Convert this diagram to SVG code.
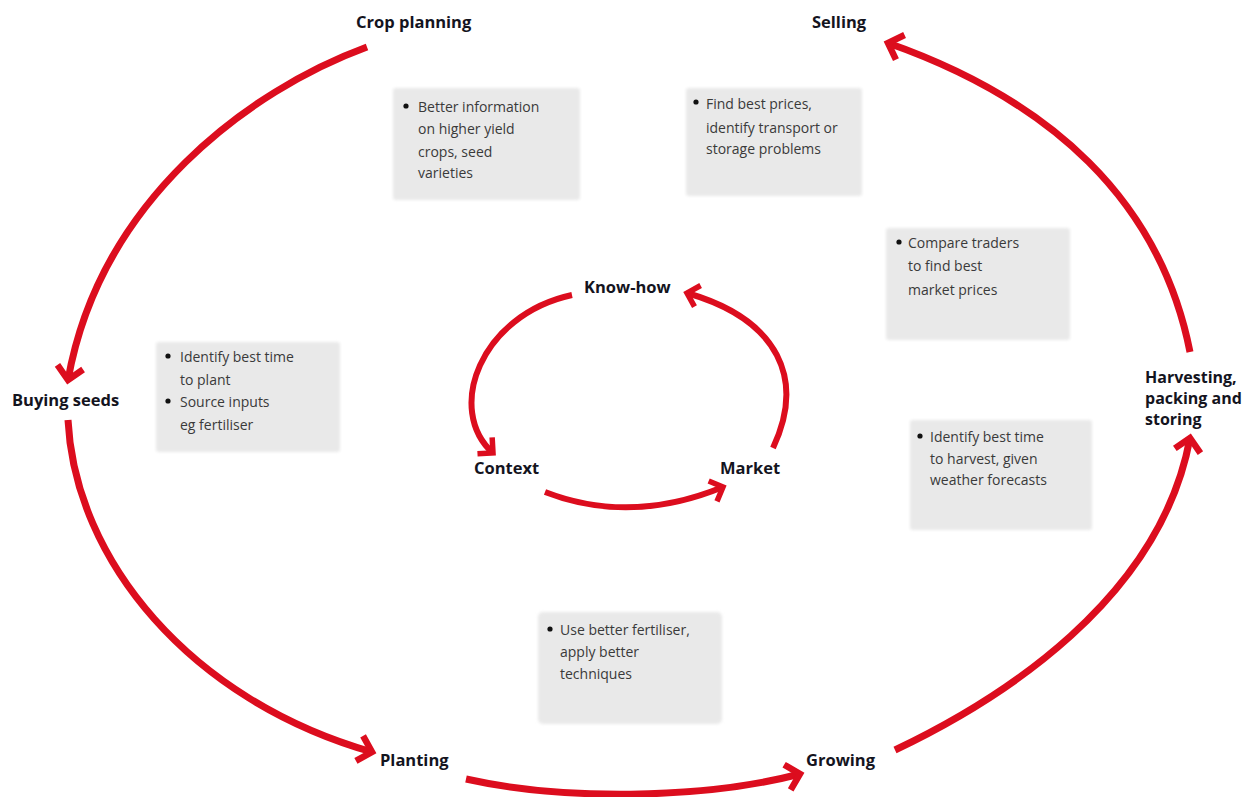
<svg xmlns="http://www.w3.org/2000/svg" width="1255" height="797" viewBox="0 0 1255 797">
<style>
.lbl{font-family:"Open Sans","Noto Sans",sans-serif;font-weight:700;font-size:16.5px;fill:#14141e}
.lbl2{font-family:"Open Sans","Noto Sans",sans-serif;font-weight:700;font-size:16px;fill:#14141e}
.tip{font-family:"Open Sans","Noto Sans",sans-serif;font-size:14px;fill:#3a3a3a}
.dot{fill:#111111}
.box{fill:#e9e9e9}
.arc{fill:none;stroke:#dc0d1e;stroke-width:7;stroke-linecap:butt}
.arc.in{stroke-width:6}
</style>
<defs>
<filter id="soft" x="-5%" y="-5%" width="110%" height="110%"><feGaussianBlur stdDeviation="1.5"/></filter>
<marker id="ah" markerUnits="userSpaceOnUse" markerWidth="40" markerHeight="40" viewBox="-20 -20 40 40" refX="0" refY="0" orient="auto">
<path d="M-13,-13 L0,0 L-13,13" fill="none" stroke="#dc0d1e" stroke-width="6.5" stroke-linejoin="miter"/>
</marker>
<marker id="ahs" markerUnits="userSpaceOnUse" markerWidth="40" markerHeight="40" viewBox="-20 -20 40 40" refX="0" refY="0" orient="auto">
<path d="M-11,-11 L0,0 L-11,11" fill="none" stroke="#dc0d1e" stroke-width="5.5" stroke-linejoin="miter"/>
</marker>
</defs>
<rect width="1255" height="797" fill="#ffffff"/>

<g id="tips">
<g id="tip-crop">
<rect class="box" x="393" y="88" width="187" height="112" rx="3" filter="url(#soft)"/>
<circle class="dot" cx="406" cy="106" r="2.6"/>
<text class="tip" x="418" y="112">Better information</text>
<text class="tip" x="418" y="134">on higher yield</text>
<text class="tip" x="418" y="157">crops, seed</text>
<text class="tip" x="418" y="178">varieties</text>
</g>
<g id="tip-sell">
<rect class="box" x="686" y="88" width="176" height="108" rx="3" filter="url(#soft)"/>
<circle class="dot" cx="696" cy="102" r="2.6"/>
<text class="tip" x="706" y="109">Find best prices,</text>
<text class="tip" x="706" y="133">identify transport or</text>
<text class="tip" x="706" y="154">storage problems</text>
</g>
<g id="tip-traders">
<rect class="box" x="886" y="228" width="184" height="112" rx="3" filter="url(#soft)"/>
<circle class="dot" cx="899" cy="242" r="2.6"/>
<text class="tip" x="908" y="248">Compare traders</text>
<text class="tip" x="908" y="271">to find best</text>
<text class="tip" x="908" y="295">market prices</text>
</g>
<g id="tip-seeds">
<rect class="box" x="156" y="342" width="184" height="110" rx="3" filter="url(#soft)"/>
<circle class="dot" cx="168" cy="356" r="2.6"/>
<text class="tip" x="180" y="362">Identify best time</text>
<text class="tip" x="180" y="385">to plant</text>
<circle class="dot" cx="168" cy="401" r="2.6"/>
<text class="tip" x="180" y="407">Source inputs</text>
<text class="tip" x="180" y="430">eg fertiliser</text>
</g>
<g id="tip-harvest">
<rect class="box" x="910" y="420" width="182" height="110" rx="3" filter="url(#soft)"/>
<circle class="dot" cx="920" cy="436" r="2.6"/>
<text class="tip" x="930" y="442">Identify best time</text>
<text class="tip" x="930" y="464">to harvest, given</text>
<text class="tip" x="930" y="485">weather forecasts</text>
</g>
<g id="tip-plant">
<rect class="box" x="538" y="612" width="184" height="112" rx="5" filter="url(#soft)"/>
<circle class="dot" cx="550" cy="629" r="2.6"/>
<text class="tip" x="560" y="635">Use better fertiliser,</text>
<text class="tip" x="560" y="657">apply better</text>
<text class="tip" x="560" y="679">techniques</text>
</g>
</g>

<g id="connectors">
<path class="arc" d="M367,47 C250,90 100,200 68,380" marker-end="url(#ah)"/>
<path class="arc" d="M68,420 C75,560 190,700 372,752" marker-end="url(#ah)"/>
<path class="arc" d="M466,779 C560,800 700,800 800,774" marker-end="url(#ah)"/>
<path class="arc" d="M895,750 C1000,700 1160,600 1190,438" marker-end="url(#ah)"/>
<path class="arc" d="M1190,352 C1160,200 1050,100 888,43" marker-end="url(#ah)"/>
<path class="arc in" d="M572,295 C480,315 445,410 493,453" marker-end="url(#ahs)"/>
<path class="arc in" d="M545,492 Q630,525 723,487" marker-end="url(#ahs)"/>
<path class="arc in" d="M773,448 C805,380 780,320 687,293" marker-end="url(#ahs)"/>
</g>

<g id="crop-planning"><text class="lbl" x="356" y="28">Crop planning</text></g>
<g id="selling"><text class="lbl" x="812" y="28">Selling</text></g>
<g id="buying-seeds"><text class="lbl" x="12" y="406">Buying seeds</text></g>
<g id="harvesting"><text class="lbl2" x="1145" y="383">Harvesting,</text><text class="lbl2" x="1145" y="404">packing and</text><text class="lbl2" x="1145" y="425">storing</text></g>
<g id="planting"><text class="lbl" x="380" y="766">Planting</text></g>
<g id="growing"><text class="lbl" x="806" y="766">Growing</text></g>
<g id="know-how"><text class="lbl" x="584" y="293">Know-how</text></g>
<g id="context"><text class="lbl" x="474" y="474">Context</text></g>
<g id="market"><text class="lbl" x="720" y="474">Market</text></g>
</svg>
